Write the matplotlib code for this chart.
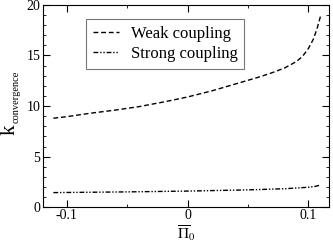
import numpy as np
import matplotlib
matplotlib.use("Agg")
import matplotlib.pyplot as plt
from matplotlib.ticker import MultipleLocator

# curves
pi0_weak = [-0.111, -0.1, -0.08, -0.06, -0.04, -0.02, 0.0, 0.02, 0.04, 0.06,
            0.07, 0.08, 0.09, 0.095, 0.1, 0.104, 0.107, 0.110]
k_weak = [8.8, 8.95, 9.3, 9.6, 9.95, 10.4, 10.9, 11.5, 12.2, 12.9,
          13.3, 13.75, 14.4, 14.9, 15.7, 16.6, 17.6, 18.9]

pi0_strong = [-0.111, -0.05, 0.0, 0.05, 0.08, 0.1, 0.106, 0.110]
k_strong = [1.45, 1.52, 1.6, 1.72, 1.83, 1.98, 2.07, 2.2]

plt.rcParams['font.family'] = 'Liberation Serif'
plt.rcParams['mathtext.fontset'] = 'stix'

fig = plt.figure(figsize=(3.33, 2.45), dpi=100)
ax = fig.add_axes([0.129, 0.154, 0.859, 0.826])

ax.plot(pi0_weak, k_weak, color='black', lw=1.0, ls=(0, (3.5, 2)),
        label='Weak coupling')
ax.plot(pi0_strong, k_strong, color='black', lw=1.0,
        ls=(0, (3.5, 1.3, 1, 1.3, 1, 1.3)), label='Strong coupling')

ax.set_xlim(-0.1196, 0.117)
ax.set_ylim(0, 20)
ax.set_xticks([-0.1, 0, 0.1])
ax.set_xticklabels(['-0.1', '0', '0.1'])
ax.xaxis.set_minor_locator(MultipleLocator(0.05))
ax.set_yticks([0, 5, 10, 15, 20])
ax.yaxis.set_minor_locator(MultipleLocator(1))
ax.tick_params(which='both', direction='in', top=True, right=True,
               labelsize=10, pad=2)
ax.tick_params(axis='x', pad=1.5)
ax.tick_params(which='major', length=5)
ax.tick_params(which='minor', length=2.5)

ax.set_xlabel(r'$\overline{\Pi}_0$', fontsize=11)
ax.xaxis.set_label_coords(0.5, -0.08)

# y label: big k with a small subscript, drawn as two texts
fig.text(0.029, 0.469, 'k', rotation=90, fontsize=15, ha='center', va='center')
fig.text(0.049, 0.606, 'convergence', rotation=90, fontsize=7.5,
         ha='center', va='center')

leg = ax.legend(loc='upper left', bbox_to_anchor=(0.15, 0.93), fontsize=12,
                handlelength=1.6, handletextpad=0.7, borderpad=0.4,
                borderaxespad=0, labelspacing=0.25, fancybox=False,
                frameon=True)
leg.get_frame().set_edgecolor('#555555')
leg.get_frame().set_linewidth(0.8)

fig.savefig('out.png', dpi=100)
